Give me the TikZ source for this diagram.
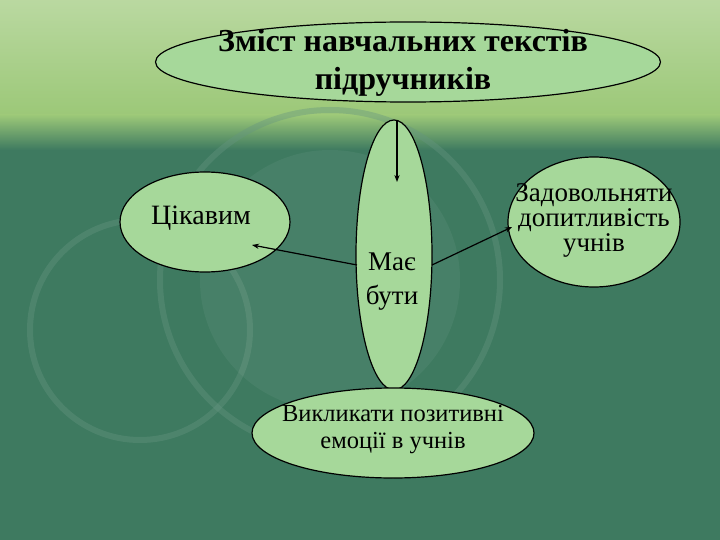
\documentclass[tikz,border=0pt]{standalone}
\usepackage{fontspec}
\setmainfont{Liberation Serif}
\usetikzlibrary{shapes.geometric,arrows.meta}
\definecolor{bgdark}{HTML}{3E7A60}
\definecolor{bgtop}{HTML}{9CC878}
\definecolor{fillg}{HTML}{A6D89A}
\tikzset{ell/.style={ellipse,draw=black,line width=1.2pt,fill=fillg,inner sep=0pt,align=center},
 conn/.style={line width=1.2pt,-{Stealth[length=7pt]}},
 lbl/.style={align=center,inner sep=0pt}}
\begin{document}
\begin{tikzpicture}[x=1pt,y=-1pt]
\fill[bgdark] (0,0) rectangle (720,540);
\shade[top color=bgtop!70!white,bottom color=bgtop] (0,0) rectangle (720,115);
\shade[top color=bgtop,bottom color=bgdark] (0,115) rectangle (720,150);
\draw[bgdark!80!white,line width=6pt,opacity=0.4] (140,330) circle (110);
\draw[bgdark!80!white,line width=6pt,opacity=0.4] (330,280) circle (170);
\fill[white,opacity=0.05] (330,280) circle (130);
\node[ell,minimum width=505,minimum height=80] (top) at (408,62) {};
\node[lbl,font=\bfseries\fontsize{32}{38}\selectfont] (toplbl) at (403,63) {Зміст навчальних текстів\\підручників};
\node[ell,minimum width=76,minimum height=270] (mid) at (394,255) {};
\node[lbl,font=\fontsize{27}{34}\selectfont] (midlbl) at (392,282) {Має\\бути};
\node[ell,minimum width=170,minimum height=100] (left) at (205,222) {};
\node[lbl,font=\fontsize{28}{30}\selectfont] (leftlbl) at (201,218) {Цікавим};
\node[ell,minimum width=172,minimum height=130] (right) at (594,222) {};
\node[lbl,font=\fontsize{27}{25}\selectfont] (rightlbl) at (594,220) {Задовольняти\\допитливість\\учнів};
\node[ell,minimum width=282,minimum height=90] (bot) at (393,433) {};
\node[lbl,font=\fontsize{24.5}{27}\selectfont] (botlbl) at (393,430) {Викликати позитивні\\емоції в учнів};
\coordinate (a1) at (397,120);
\coordinate (a2) at (397,182);
\draw[conn] (a1) -- (a2);
\coordinate (b1) at (357,265);
\coordinate (b2) at (252,245);
\draw[conn] (b1) -- (b2);
\coordinate (c1) at (432,265);
\coordinate (c2) at (512,227);
\draw[conn] (c1) -- (c2);
\end{tikzpicture}
\end{document}
